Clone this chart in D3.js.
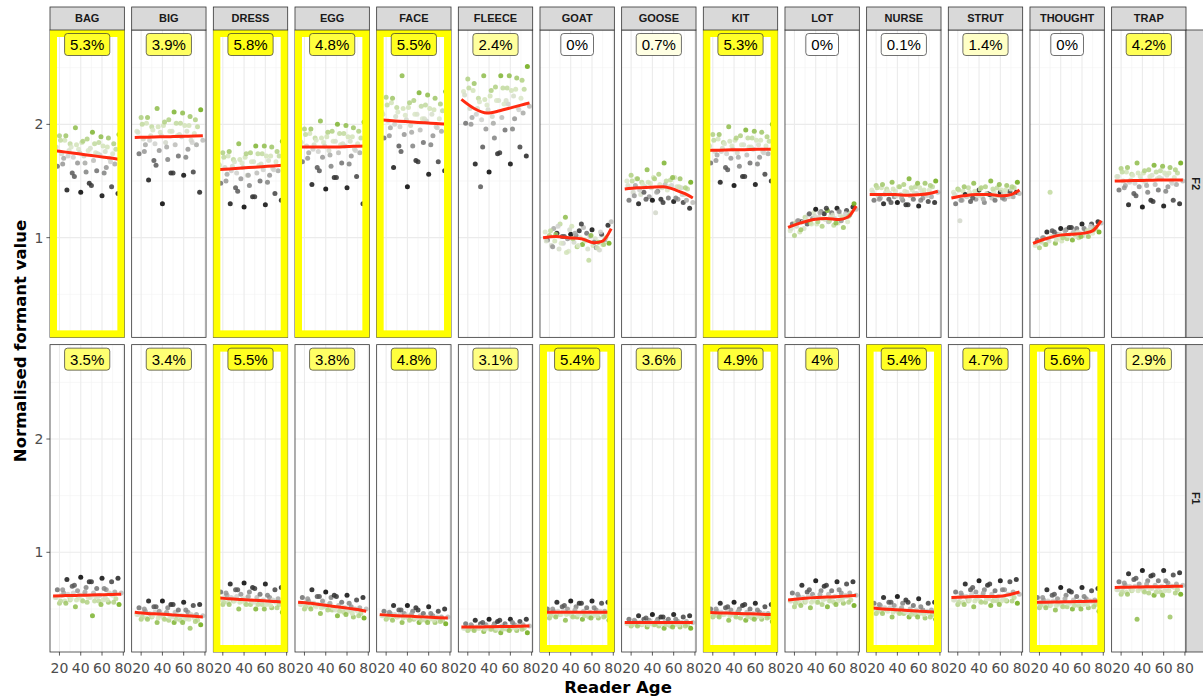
<!DOCTYPE html>
<html>
<head>
<meta charset="utf-8">
<script src="https://cdn.jsdelivr.net/npm/d3@7"></script>
<style>
  html, body { margin: 0; padding: 0; background: #fff; }
  #container { width: 1203px; height: 700px; }
</style>
</head>
<body>
<div id="container"></div>
<script>
/**
 * 数据
 */
const vowels = ["BAG", "BIG", "DRESS", "EGG", "FACE", "FLEECE", "GOAT", "GOOSE", "KIT", "LOT", "NURSE", "STRUT", "THOUGHT", "TRAP"];
const formants = ["F2", "F1"];

// 读者年龄与着色分值（-1 黑色 … +1 绿色）
const speakerAge = [16, 18, 20, 22, 24, 25, 27, 29, 30, 32, 33, 35, 37, 38, 40, 41, 43, 45, 46, 48, 49, 51, 52, 54, 55, 57, 58, 60, 61, 63, 64, 66, 67, 69, 70, 72, 73, 75, 76, 78,
  17, 21, 23, 26, 28, 31, 34, 36, 39, 42, 44, 47, 50, 53, 56, 59, 62, 65, 68, 71];
const speakerScore = [0.3, -0.5, 0.6, 0.1, -0.2, 0.4, -0.9, 0.2, 0.5, -0.6, 0.0, 0.8, -0.3, 0.3, -1.0, 0.4, 0.1, -0.4, 0.6, -0.8, 0.2, 0.9, -0.1, 0.3, -0.5, 0.5, 0.0, -0.95, 0.4, 0.2, -0.3, 0.7, 0.1, -0.7, 0.3, -0.2, 0.5, -0.85, 1.0, -0.1,
  0.2, 0.5, -0.3, 0.7, 0.0, 0.3, -0.6, 0.4, 0.1, 0.6, -0.2, 0.3, -0.75, 0.5, 0.2, 0.8, -0.4, 0.4, 0.0, 0.6];

// F2 各元音的点
const bagF2 = [1.80, 1.63, 1.90, 1.74, 1.70, 1.86, 1.42, 1.77, 1.83, 1.57, 1.71, 1.97, 1.66, 1.78, 1.40, 1.84, 1.72, 1.58, 1.87, 1.48, 1.79, 1.93, 1.68, 1.75, 1.59, 1.84, 1.73, 1.37, 1.81, 1.76, 1.62, 1.88, 1.70, 1.45, 1.74, 1.65, 1.78, 1.39, 1.91, 1.67,
  1.80, 1.86, 1.65, 1.90, 1.72, 1.80, 1.54, 1.82, 1.75, 1.85, 1.66, 1.77, 1.46, 1.83, 1.74, 1.89, 1.57, 1.80, 1.67, 1.83];
const bigF2 = [1.94, 1.74, 2.06, 1.87, 1.82, 2.01, 1.51, 1.90, 1.98, 1.68, 1.83, 2.14, 1.77, 1.93, 1.30, 1.99, 1.84, 1.69, 2.04, 1.57, 1.94, 2.11, 1.82, 1.90, 1.72, 2.01, 1.89, 1.55, 1.99, 1.94, 1.78, 2.07, 1.86, 1.58, 1.92, 1.82, 1.98, 1.40, 2.13, 1.86,
  1.93, 2.00, 1.76, 2.06, 1.86, 1.95, 1.64, 1.98, 1.90, 2.02, 1.80, 1.94, 1.57, 2.01, 1.91, 2.10, 1.71, 1.99, 1.84, 2.04];
const dressF2 = [1.65, 1.48, 1.75, 1.62, 1.56, 1.72, 1.30, 1.63, 1.69, 1.44, 1.57, 1.83, 1.52, 1.66, 1.27, 1.71, 1.55, 1.46, 1.75, 1.36, 1.67, 1.81, 1.57, 1.64, 1.50, 1.74, 1.60, 1.29, 1.72, 1.68, 1.55, 1.80, 1.61, 1.39, 1.67, 1.59, 1.72, 1.33, 1.85, 1.62,
  1.64, 1.71, 1.50, 1.76, 1.59, 1.67, 1.41, 1.69, 1.62, 1.74, 1.55, 1.67, 1.36, 1.74, 1.65, 1.81, 1.49, 1.72, 1.60, 1.76];
const eggF2 = [1.85, 1.67, 1.96, 1.81, 1.75, 1.92, 1.47, 1.82, 1.88, 1.62, 1.76, 2.03, 1.71, 1.84, 1.43, 1.89, 1.77, 1.63, 1.94, 1.53, 1.85, 2.00, 1.75, 1.82, 1.66, 1.92, 1.81, 1.44, 1.89, 1.85, 1.72, 1.97, 1.78, 1.54, 1.83, 1.75, 1.88, 1.30, 2.02, 1.78,
  1.84, 1.91, 1.70, 1.96, 1.78, 1.86, 1.59, 1.88, 1.81, 1.93, 1.73, 1.85, 1.53, 1.92, 1.83, 1.99, 1.65, 1.89, 1.77, 1.94];
const faceF2 = [2.11, 1.88, 2.24, 2.03, 1.97, 2.19, 1.62, 2.07, 2.15, 1.81, 1.98, 2.43, 1.91, 2.08, 1.45, 2.15, 1.99, 1.81, 2.21, 1.68, 2.09, 2.28, 1.95, 2.05, 1.84, 2.17, 2.03, 1.56, 2.14, 2.09, 1.90, 2.23, 1.98, 1.67, 2.05, 1.94, 2.12, 1.59, 2.29, 1.98,
  2.09, 2.17, 1.90, 2.23, 2.00, 2.11, 1.76, 2.14, 2.04, 2.19, 1.93, 2.09, 1.67, 2.16, 2.05, 2.26, 1.82, 2.13, 1.97, 2.18];
const fleeceF2 = [2.29, 2.01, 2.40, 2.14, 2.06, 2.30, 1.65, 2.14, 2.23, 1.45, 2.04, 2.43, 1.96, 2.17, 1.58, 2.25, 2.07, 1.88, 2.33, 1.74, 2.21, 2.43, 2.06, 2.18, 1.95, 2.32, 2.18, 1.65, 2.30, 2.25, 2.05, 2.41, 2.15, 1.80, 2.23, 2.10, 2.31, 1.72, 2.51, 2.16,
  2.26, 2.32, 2.00, 2.36, 2.09, 2.20, 1.80, 2.22, 2.13, 2.30, 2.01, 2.21, 1.75, 2.32, 2.21, 2.43, 1.96, 2.31, 2.13, 2.39];
const goatF2 = [1.05, 0.98, 1.02, 0.93, 1.08, 0.97, 1.04, 0.90, 1.12, 1.01, 0.95, 1.18, 0.99, 0.88, 1.03, 1.10, 0.96, 1.02, 0.92, 1.06, 1.00, 0.94, 1.09, 0.97, 1.04, 0.80, 1.01, 1.07, 0.93, 0.99, 0.91, 0.96, 0.89, 1.03, 0.94, 0.98, 1.00, 1.11, 0.95, 1.14,
  0.97, 1.06, 0.92, 1.03, 1.10, 0.95, 1.01, 0.87, 1.07, 0.99, 1.04, 0.93, 1.12, 0.98, 0.90, 1.02, 0.96, 0.91, 1.05, 0.94];
const gooseF2 = [1.50, 1.33, 1.55, 1.40, 1.46, 1.52, 1.30, 1.38, 1.49, 1.40, 1.45, 1.60, 1.36, 1.48, 1.33, 1.53, 1.22, 1.41, 1.56, 1.34, 1.44, 1.66, 1.47, 1.42, 1.35, 1.51, 1.46, 1.32, 1.53, 1.45, 1.34, 1.52, 1.44, 1.31, 1.38, 1.33, 1.43, 1.26, 1.49, 1.31,
  1.46, 1.50, 1.37, 1.52, 1.42, 1.47, 1.34, 1.49, 1.44, 1.52, 1.40, 1.47, 1.31, 1.50, 1.45, 1.53, 1.35, 1.45, 1.38, 1.44];
const kitF2 = [1.82, 1.66, 1.91, 1.76, 1.73, 1.87, 1.49, 1.79, 1.84, 1.62, 1.74, 1.98, 1.70, 1.81, 1.46, 1.86, 1.75, 1.63, 1.90, 1.54, 1.82, 1.95, 1.73, 1.80, 1.66, 1.88, 1.78, 1.47, 1.86, 1.82, 1.71, 1.93, 1.76, 1.56, 1.81, 1.74, 1.85, 1.50, 2.00, 1.76,
  1.81, 1.86, 1.68, 1.91, 1.76, 1.83, 1.60, 1.85, 1.78, 1.88, 1.71, 1.82, 1.54, 1.88, 1.80, 1.94, 1.65, 1.86, 1.75, 1.89];
const lotF2 = [1.06, 1.12, 1.02, 1.10, 1.15, 1.05, 1.14, 1.08, 1.18, 1.12, 1.20, 1.13, 1.17, 1.22, 1.25, 1.12, 1.18, 1.23, 1.10, 1.21, 1.16, 1.24, 1.14, 1.19, 1.22, 1.11, 1.17, 1.26, 1.13, 1.20, 1.15, 1.09, 1.18, 1.24, 1.14, 1.20, 1.22, 1.27, 1.30, 1.25,
  1.08, 1.13, 1.15, 1.07, 1.14, 1.16, 1.21, 1.12, 1.19, 1.14, 1.22, 1.17, 1.26, 1.15, 1.20, 1.13, 1.23, 1.18, 1.21, 1.19];
const nurseF2 = [1.42, 1.33, 1.46, 1.37, 1.35, 1.44, 1.30, 1.40, 1.43, 1.34, 1.39, 1.49, 1.36, 1.41, 1.31, 1.45, 1.38, 1.33, 1.47, 1.29, 1.40, 1.52, 1.37, 1.42, 1.34, 1.45, 1.39, 1.28, 1.44, 1.41, 1.35, 1.48, 1.38, 1.32, 1.42, 1.36, 1.45, 1.31, 1.50, 1.40,
  1.40, 1.44, 1.34, 1.47, 1.38, 1.41, 1.31, 1.43, 1.37, 1.45, 1.35, 1.41, 1.29, 1.44, 1.39, 1.48, 1.33, 1.42, 1.37, 1.46];
const strutF2 = [1.40, 1.30, 1.43, 1.15, 1.33, 1.41, 1.38, 1.36, 1.44, 1.32, 1.37, 1.48, 1.34, 1.40, 1.42, 1.43, 1.36, 1.31, 1.45, 1.39, 1.38, 1.50, 1.35, 1.41, 1.33, 1.44, 1.37, 1.40, 1.42, 1.39, 1.34, 1.46, 1.38, 1.41, 1.43, 1.36, 1.44, 1.40, 1.49, 1.39,
  1.38, 1.42, 1.33, 1.45, 1.36, 1.40, 1.35, 1.41, 1.37, 1.44, 1.34, 1.39, 1.38, 1.43, 1.37, 1.47, 1.35, 1.42, 1.36, 1.45];
const thoughtF2 = [0.93, 0.98, 0.91, 0.96, 1.00, 0.94, 1.05, 0.97, 1.40, 1.06, 1.01, 0.95, 1.03, 1.00, 1.08, 0.97, 1.02, 1.07, 0.99, 1.09, 1.03, 0.98, 1.05, 1.01, 1.08, 1.00, 1.04, 1.12, 1.02, 1.06, 1.05, 1.01, 1.07, 1.12, 1.04, 1.09, 1.08, 1.14, 1.05, 1.13,
  0.95, 0.97, 1.00, 0.94, 0.99, 1.01, 1.05, 0.98, 1.03, 1.00, 1.06, 1.02, 1.09, 1.03, 1.05, 1.01, 1.08, 1.06, 1.10, 1.07];
const trapF2 = [1.54, 1.42, 1.61, 1.50, 1.46, 1.58, 1.29, 1.51, 1.56, 1.39, 1.48, 1.66, 1.45, 1.54, 1.27, 1.57, 1.49, 1.40, 1.60, 1.33, 1.55, 1.64, 1.47, 1.52, 1.42, 1.59, 1.52, 1.28, 1.57, 1.55, 1.45, 1.62, 1.50, 1.33, 1.53, 1.47, 1.57, 1.30, 1.66, 1.50,
  1.54, 1.58, 1.44, 1.62, 1.49, 1.55, 1.37, 1.57, 1.51, 1.59, 1.46, 1.54, 1.32, 1.58, 1.53, 1.63, 1.41, 1.57, 1.48, 1.60];

// F1 各元音的点
const bagF1 = [0.60, 0.67, 0.55, 0.62, 0.64, 0.57, 0.76, 0.61, 0.58, 0.70, 0.64, 0.52, 0.66, 0.60, 0.78, 0.58, 0.63, 0.69, 0.56, 0.74, 0.60, 0.44, 0.64, 0.61, 0.68, 0.57, 0.62, 0.77, 0.58, 0.60, 0.67, 0.56, 0.64, 0.74, 0.62, 0.65, 0.59, 0.77, 0.54, 0.64,
  0.60, 0.57, 0.67, 0.55, 0.63, 0.59, 0.71, 0.58, 0.62, 0.57, 0.65, 0.60, 0.74, 0.57, 0.61, 0.54, 0.68, 0.58, 0.63, 0.56];
const bigF1 = [0.45, 0.51, 0.41, 0.46, 0.48, 0.42, 0.57, 0.45, 0.43, 0.52, 0.47, 0.38, 0.48, 0.44, 0.57, 0.42, 0.46, 0.51, 0.40, 0.54, 0.43, 0.38, 0.47, 0.44, 0.49, 0.40, 0.44, 0.56, 0.41, 0.42, 0.47, 0.33, 0.45, 0.53, 0.42, 0.45, 0.40, 0.54, 0.36, 0.44,
  0.45, 0.43, 0.50, 0.41, 0.46, 0.44, 0.52, 0.42, 0.45, 0.41, 0.47, 0.43, 0.54, 0.41, 0.44, 0.38, 0.49, 0.41, 0.44, 0.39];
const dressF1 = [0.58, 0.65, 0.54, 0.60, 0.62, 0.56, 0.72, 0.59, 0.57, 0.67, 0.61, 0.50, 0.63, 0.57, 0.73, 0.55, 0.60, 0.65, 0.54, 0.69, 0.56, 0.50, 0.60, 0.57, 0.63, 0.54, 0.58, 0.72, 0.54, 0.56, 0.60, 0.51, 0.58, 0.67, 0.56, 0.59, 0.54, 0.69, 0.47, 0.58,
  0.58, 0.56, 0.64, 0.54, 0.60, 0.57, 0.67, 0.56, 0.59, 0.54, 0.61, 0.57, 0.68, 0.54, 0.57, 0.50, 0.62, 0.53, 0.57, 0.51];
const eggF1 = [0.54, 0.60, 0.50, 0.56, 0.57, 0.52, 0.67, 0.55, 0.53, 0.61, 0.54, 0.46, 0.57, 0.52, 0.65, 0.51, 0.54, 0.60, 0.49, 0.62, 0.49, 0.44, 0.53, 0.50, 0.56, 0.47, 0.51, 0.62, 0.48, 0.49, 0.52, 0.43, 0.50, 0.58, 0.48, 0.51, 0.46, 0.60, 0.42, 0.50,
  0.54, 0.52, 0.59, 0.50, 0.55, 0.52, 0.61, 0.51, 0.53, 0.49, 0.55, 0.51, 0.61, 0.48, 0.51, 0.45, 0.55, 0.46, 0.50, 0.44];
const faceF1 = [0.44, 0.48, 0.41, 0.45, 0.46, 0.42, 0.53, 0.44, 0.43, 0.49, 0.45, 0.38, 0.46, 0.43, 0.53, 0.42, 0.45, 0.48, 0.41, 0.51, 0.42, 0.38, 0.44, 0.42, 0.46, 0.40, 0.43, 0.52, 0.41, 0.42, 0.44, 0.38, 0.42, 0.48, 0.41, 0.43, 0.40, 0.50, 0.37, 0.43,
  0.44, 0.42, 0.47, 0.40, 0.45, 0.43, 0.49, 0.42, 0.44, 0.40, 0.45, 0.42, 0.49, 0.40, 0.42, 0.38, 0.46, 0.40, 0.43, 0.39];
const fleeceF1 = [0.33, 0.37, 0.31, 0.34, 0.35, 0.32, 0.40, 0.34, 0.33, 0.37, 0.35, 0.30, 0.36, 0.33, 0.41, 0.32, 0.34, 0.37, 0.31, 0.39, 0.33, 0.29, 0.35, 0.34, 0.37, 0.32, 0.34, 0.41, 0.33, 0.34, 0.36, 0.31, 0.35, 0.39, 0.34, 0.36, 0.33, 0.41, 0.29, 0.35,
  0.33, 0.32, 0.36, 0.31, 0.34, 0.33, 0.38, 0.32, 0.34, 0.32, 0.35, 0.33, 0.40, 0.32, 0.34, 0.31, 0.38, 0.33, 0.35, 0.32];
const goatF1 = [0.46, 0.50, 0.42, 0.47, 0.48, 0.44, 0.56, 0.46, 0.45, 0.52, 0.48, 0.40, 0.50, 0.46, 0.57, 0.44, 0.47, 0.52, 0.43, 0.55, 0.46, 0.41, 0.48, 0.46, 0.51, 0.43, 0.47, 0.57, 0.44, 0.46, 0.49, 0.42, 0.47, 0.55, 0.46, 0.48, 0.44, 0.56, 0.40, 0.47,
  0.46, 0.44, 0.50, 0.43, 0.48, 0.45, 0.53, 0.45, 0.47, 0.43, 0.49, 0.45, 0.55, 0.44, 0.46, 0.42, 0.51, 0.44, 0.48, 0.43];
const gooseF1 = [0.37, 0.41, 0.35, 0.38, 0.39, 0.36, 0.44, 0.38, 0.36, 0.41, 0.38, 0.34, 0.40, 0.37, 0.45, 0.36, 0.38, 0.41, 0.35, 0.43, 0.37, 0.33, 0.39, 0.38, 0.41, 0.35, 0.38, 0.45, 0.36, 0.37, 0.39, 0.34, 0.38, 0.43, 0.37, 0.39, 0.36, 0.44, 0.33, 0.38,
  0.37, 0.36, 0.40, 0.35, 0.38, 0.37, 0.42, 0.36, 0.38, 0.36, 0.39, 0.37, 0.43, 0.36, 0.37, 0.34, 0.41, 0.36, 0.38, 0.35];
const kitF1 = [0.46, 0.50, 0.43, 0.47, 0.48, 0.44, 0.55, 0.46, 0.45, 0.51, 0.47, 0.40, 0.49, 0.45, 0.56, 0.44, 0.47, 0.50, 0.42, 0.53, 0.45, 0.40, 0.47, 0.45, 0.50, 0.42, 0.46, 0.55, 0.43, 0.45, 0.47, 0.41, 0.45, 0.52, 0.44, 0.46, 0.43, 0.54, 0.39, 0.46,
  0.46, 0.44, 0.50, 0.43, 0.47, 0.45, 0.52, 0.44, 0.46, 0.43, 0.48, 0.45, 0.54, 0.43, 0.45, 0.41, 0.49, 0.43, 0.46, 0.42];
const lotF1 = [0.57, 0.64, 0.52, 0.58, 0.61, 0.55, 0.71, 0.58, 0.56, 0.65, 0.61, 0.51, 0.63, 0.58, 0.75, 0.56, 0.60, 0.66, 0.54, 0.70, 0.59, 0.52, 0.63, 0.60, 0.66, 0.56, 0.61, 0.74, 0.57, 0.59, 0.64, 0.55, 0.61, 0.72, 0.61, 0.64, 0.58, 0.74, 0.53, 0.62,
  0.57, 0.55, 0.63, 0.53, 0.60, 0.57, 0.67, 0.56, 0.60, 0.56, 0.63, 0.58, 0.71, 0.57, 0.60, 0.54, 0.67, 0.58, 0.62, 0.56];
const nurseF1 = [0.50, 0.55, 0.46, 0.51, 0.53, 0.48, 0.60, 0.50, 0.49, 0.56, 0.51, 0.43, 0.53, 0.49, 0.61, 0.47, 0.50, 0.55, 0.46, 0.58, 0.47, 0.43, 0.50, 0.48, 0.53, 0.45, 0.49, 0.59, 0.46, 0.47, 0.49, 0.42, 0.47, 0.55, 0.46, 0.49, 0.45, 0.56, 0.41, 0.48,
  0.50, 0.47, 0.54, 0.46, 0.51, 0.48, 0.56, 0.47, 0.49, 0.46, 0.51, 0.48, 0.56, 0.45, 0.48, 0.43, 0.52, 0.45, 0.48, 0.43];
const strutF1 = [0.58, 0.65, 0.54, 0.60, 0.62, 0.56, 0.72, 0.59, 0.57, 0.67, 0.63, 0.52, 0.65, 0.59, 0.75, 0.57, 0.62, 0.67, 0.56, 0.71, 0.59, 0.53, 0.63, 0.60, 0.66, 0.57, 0.61, 0.75, 0.57, 0.59, 0.67, 0.57, 0.63, 0.74, 0.62, 0.65, 0.60, 0.76, 0.55, 0.63,
  0.58, 0.56, 0.64, 0.54, 0.61, 0.58, 0.69, 0.57, 0.61, 0.56, 0.64, 0.59, 0.72, 0.57, 0.60, 0.54, 0.67, 0.58, 0.63, 0.57];
const thoughtF1 = [0.55, 0.60, 0.51, 0.56, 0.58, 0.53, 0.67, 0.55, 0.53, 0.62, 0.57, 0.49, 0.59, 0.55, 0.69, 0.53, 0.56, 0.62, 0.52, 0.66, 0.55, 0.50, 0.58, 0.56, 0.61, 0.53, 0.57, 0.69, 0.54, 0.55, 0.59, 0.51, 0.57, 0.66, 0.56, 0.58, 0.54, 0.68, 0.48, 0.57,
  0.55, 0.53, 0.60, 0.51, 0.57, 0.54, 0.63, 0.53, 0.56, 0.52, 0.59, 0.55, 0.65, 0.53, 0.56, 0.50, 0.61, 0.54, 0.57, 0.52];
const trapF1 = [0.67, 0.74, 0.63, 0.69, 0.71, 0.65, 0.81, 0.68, 0.66, 0.76, 0.70, 0.41, 0.72, 0.68, 0.84, 0.66, 0.69, 0.75, 0.64, 0.79, 0.68, 0.62, 0.71, 0.69, 0.75, 0.65, 0.70, 0.84, 0.66, 0.68, 0.73, 0.43, 0.70, 0.80, 0.69, 0.72, 0.67, 0.82, 0.63, 0.71,
  0.67, 0.65, 0.73, 0.63, 0.70, 0.67, 0.77, 0.66, 0.69, 0.65, 0.72, 0.68, 0.80, 0.65, 0.69, 0.62, 0.75, 0.66, 0.70, 0.64];

// 平滑曲线（红线）在这些年龄处的取值
const smoothAges = [14, 26, 38, 50, 62, 70, 78];
const smoothF2 = [
  [1.77, 1.755, 1.74, 1.725, 1.71, 1.70, 1.69],
  [1.885, 1.887, 1.89, 1.892, 1.895, 1.897, 1.90],
  [1.60, 1.607, 1.615, 1.622, 1.63, 1.635, 1.64],
  [1.80, 1.80, 1.80, 1.80, 1.805, 1.807, 1.81],
  [2.04, 2.032, 2.025, 2.017, 2.01, 2.005, 2.00],
  [2.22, 2.14, 2.10, 2.12, 2.15, 2.17, 2.19],
  [1.00, 1.01, 1.00, 0.99, 0.955, 0.97, 1.08],
  [1.43, 1.44, 1.445, 1.45, 1.42, 1.39, 1.35],
  [1.77, 1.772, 1.775, 1.777, 1.78, 1.78, 1.78],
  [1.09, 1.13, 1.16, 1.17, 1.16, 1.18, 1.28],
  [1.38, 1.38, 1.38, 1.375, 1.38, 1.39, 1.41],
  [1.35, 1.37, 1.38, 1.38, 1.37, 1.38, 1.42],
  [0.95, 0.99, 1.02, 1.03, 1.04, 1.06, 1.15],
  [1.50, 1.502, 1.505, 1.507, 1.51, 1.51, 1.51]
];
const smoothF1 = [
  [0.615, 0.618, 0.62, 0.623, 0.626, 0.628, 0.63],
  [0.47, 0.46, 0.455, 0.447, 0.44, 0.435, 0.43],
  [0.60, 0.59, 0.583, 0.577, 0.57, 0.565, 0.56],
  [0.56, 0.55, 0.535, 0.52, 0.505, 0.495, 0.48],
  [0.45, 0.442, 0.437, 0.432, 0.427, 0.423, 0.42],
  [0.34, 0.34, 0.342, 0.344, 0.346, 0.348, 0.35],
  [0.47, 0.47, 0.47, 0.47, 0.47, 0.47, 0.47],
  [0.38, 0.38, 0.38, 0.38, 0.38, 0.38, 0.38],
  [0.47, 0.465, 0.462, 0.458, 0.455, 0.452, 0.45],
  [0.58, 0.59, 0.60, 0.605, 0.61, 0.615, 0.62],
  [0.51, 0.50, 0.493, 0.487, 0.48, 0.475, 0.47],
  [0.60, 0.605, 0.61, 0.61, 0.615, 0.63, 0.65],
  [0.56, 0.56, 0.562, 0.564, 0.566, 0.568, 0.57],
  [0.69, 0.692, 0.694, 0.696, 0.698, 0.70, 0.70]
];

// 每个面板顶部的百分比标注
const pctF2 = [5.3, 3.9, 5.8, 4.8, 5.5, 2.4, 0, 0.7, 5.3, 0, 0.1, 1.4, 0, 4.2];
const pctF1 = [3.5, 3.4, 5.5, 3.8, 4.8, 3.1, 5.4, 3.6, 4.9, 4, 5.4, 4.7, 5.6, 2.9];

// 黄色框高亮的面板
const highlightF2 = ["BAG", "DRESS", "EGG", "FACE", "KIT"];
const highlightF1 = ["DRESS", "GOAT", "KIT", "NURSE", "THOUGHT"];

// 坐标轴刻度
const xTicks = [20, 40, 60, 80];
const xMinor = [30, 50, 70];
const yTicks = [1, 2];
const yMinor = [0.5, 1.5, 2.5];

/**
 * 布局
 */
const width = 1203;
const height = 700;
const panelLeft = 50;
const panelRight = 1186;
const panelGap = 7.3;
const panelWidth = (panelRight - panelLeft - 13 * panelGap) / 14;
const rowTops = [30, 344.65];
const rowHeight = 307.35;
const stripTop = 7;
const stripSize = 23;
const axisFont = "'DejaVu Sans', Verdana, sans-serif";

const rows = [
  { name: formants[0], points: [bagF2, bigF2, dressF2, eggF2, faceF2, fleeceF2, goatF2, gooseF2, kitF2, lotF2, nurseF2, strutF2, thoughtF2, trapF2], smooth: smoothF2, pct: pctF2, hi: highlightF2 },
  { name: formants[1], points: [bagF1, bigF1, dressF1, eggF1, faceF1, fleeceF1, goatF1, gooseF1, kitF1, lotF1, nurseF1, strutF1, thoughtF1, trapF1], smooth: smoothF1, pct: pctF1, hi: highlightF1 }
];

// 比例尺（每个面板内部使用的局部坐标）
const x = d3.scaleLinear().domain([11.1, 81]).range([0, panelWidth]);
const y = d3.scaleLinear().domain([0.12, 2.833]).range([rowHeight, 0]);
const color = d3.scaleLinear()
  .domain([-1, -0.5, 0, 0.35, 1])
  .range(["#000000", "#6e6e6e", "#cfd0cc", "#dbe8c6", "#6ca913"]);
const labelFill = (p) => d3.interpolateRgb("#ffffff", "#ffff00")(Math.min(1, p / 6.3));

const line = d3.line()
  .curve(d3.curveMonotoneX)
  .x((d) => x(d[0]))
  .y((d) => y(d[1]));

const svg = d3.select("#container")
  .append("svg")
  .attr("width", width)
  .attr("height", height)
  .attr("viewBox", [0, 0, width, height])
  .style("font-family", "'Liberation Sans', Arial, sans-serif");

svg.append("rect").attr("width", width).attr("height", height).attr("fill", "#fff");

const colLeft = (c) => panelLeft + c * (panelWidth + panelGap);

/**
 * 面板
 */
rows.forEach((row, r) => {
  const top = rowTops[r];
  vowels.forEach((v, c) => {
    const g = svg.append("g").attr("transform", `translate(${colLeft(c)},${top})`);

    g.append("rect").attr("width", panelWidth).attr("height", rowHeight).attr("fill", "#fff");

    // 网格线：先画次要，再画主要
    const grid = (vals, stroke, sw, vertical) => g.append("g")
      .attr("stroke", stroke)
      .attr("stroke-width", sw)
      .selectAll("line")
      .data(vals)
      .join("line")
      .attr("x1", (d) => vertical ? x(d) : 0)
      .attr("x2", (d) => vertical ? x(d) : panelWidth)
      .attr("y1", (d) => vertical ? 0 : y(d))
      .attr("y2", (d) => vertical ? rowHeight : y(d));
    grid(xMinor, "#f2f2f2", 0.6, true);
    grid(yMinor, "#f2f2f2", 0.6, false);
    grid(xTicks, "#ebebeb", 1.1, true);
    grid(yTicks, "#ebebeb", 1.1, false);

    // 散点
    const vals = row.points[c];
    g.append("g")
      .selectAll("circle")
      .data(d3.range(speakerAge.length))
      .join("circle")
      .attr("cx", (i) => x(speakerAge[i]))
      .attr("cy", (i) => y(vals[i]))
      .attr("r", 2.5)
      .attr("fill", (i) => color(speakerScore[i]))
      .attr("fill-opacity", 0.85);

    // 平滑红线
    g.append("path")
      .attr("fill", "none")
      .attr("stroke", "#ff2a10")
      .attr("stroke-width", 3)
      .attr("d", line(smoothAges.map((a, k) => [a, row.smooth[c][k]])));

    // 面板边框
    g.append("rect")
      .attr("width", panelWidth)
      .attr("height", rowHeight)
      .attr("fill", "none")
      .attr("stroke", "#333")
      .attr("stroke-width", 0.8);

    // 黄色高亮框
    if (row.hi.includes(v)) {
      g.append("rect")
        .attr("x", 3.5)
        .attr("y", 3.5)
        .attr("width", panelWidth - 7)
        .attr("height", rowHeight - 7)
        .attr("fill", "none")
        .attr("stroke", "#ffff00")
        .attr("stroke-width", 7);
    }

    // 百分比标注
    const lab = g.append("g").attr("transform", `translate(${panelWidth / 2},${14.5})`);
    const box = lab.append("rect");
    const t = lab.append("text")
      .attr("text-anchor", "middle")
      .attr("dy", "0.36em")
      .attr("font-size", 15)
      .attr("fill", "#000")
      .text(`${row.pct[c]}%`);
    const tw = t.node().getComputedTextLength();
    box.attr("x", -tw / 2 - 5.5)
      .attr("y", -11)
      .attr("width", tw + 11)
      .attr("height", 22)
      .attr("rx", 3)
      .attr("fill", labelFill(row.pct[c]))
      .attr("stroke", "#333")
      .attr("stroke-width", 0.7);
  });

  // 右侧分面标签
  const sg = svg.append("g").attr("transform", `translate(${panelRight},${top})`);
  sg.append("rect")
    .attr("width", 22)
    .attr("height", rowHeight)
    .attr("fill", "#d9d9d9")
    .attr("stroke", "#333")
    .attr("stroke-width", 0.8);
  sg.append("text")
    .attr("transform", `translate(10,${rowHeight / 2}) rotate(90)`)
    .attr("text-anchor", "middle")
    .attr("dy", "0.35em")
    .attr("font-size", 11)
    .attr("font-weight", "bold")
    .attr("fill", "#1a1a1a")
    .text(row.name);

  // 纵坐标轴
  const ya = svg.append("g").attr("transform", `translate(${panelLeft},${top})`);
  ya.selectAll("line")
    .data(yTicks)
    .join("line")
    .attr("x1", -3.6)
    .attr("x2", 0)
    .attr("y1", (d) => y(d))
    .attr("y2", (d) => y(d))
    .attr("stroke", "#333")
    .attr("stroke-width", 0.8);
  ya.selectAll("text")
    .data(yTicks)
    .join("text")
    .attr("x", -6.5)
    .attr("y", (d) => y(d))
    .attr("dy", "0.36em")
    .attr("text-anchor", "end")
    .attr("font-family", axisFont)
    .attr("font-size", 14)
    .attr("fill", "#4d4d4d")
    .text((d) => d);
});

// 顶部分面标签
vowels.forEach((v, c) => {
  const sg = svg.append("g").attr("transform", `translate(${colLeft(c)},${stripTop})`);
  sg.append("rect")
    .attr("width", panelWidth)
    .attr("height", stripSize)
    .attr("fill", "#d9d9d9")
    .attr("stroke", "#333")
    .attr("stroke-width", 0.8);
  sg.append("text")
    .attr("x", panelWidth / 2)
    .attr("y", stripSize / 2)
    .attr("dy", "0.35em")
    .attr("text-anchor", "middle")
    .attr("font-size", 11)
    .attr("font-weight", "bold")
    .attr("fill", "#1a1a1a")
    .text(v);

  // 横坐标轴（只在底行）
  const xa = svg.append("g").attr("transform", `translate(${colLeft(c)},${rowTops[1] + rowHeight})`);
  xa.selectAll("line")
    .data(xTicks)
    .join("line")
    .attr("x1", (d) => x(d))
    .attr("x2", (d) => x(d))
    .attr("y1", 0)
    .attr("y2", 3.6)
    .attr("stroke", "#333")
    .attr("stroke-width", 0.8);
  xa.selectAll("text")
    .data(xTicks)
    .join("text")
    .attr("x", (d) => x(d))
    .attr("y", 16)
    .attr("dy", "0.36em")
    .attr("text-anchor", "middle")
    .attr("font-family", axisFont)
    .attr("font-size", 14)
    .attr("fill", "#4d4d4d")
    .text((d) => d);
});

// 坐标轴标题
svg.append("text")
  .attr("transform", `translate(25.5,${(rowTops[0] + rowTops[1] + rowHeight) / 2}) rotate(-90)`)
  .attr("text-anchor", "middle")
  .attr("font-family", axisFont)
  .attr("font-size", 16.5)
  .attr("font-weight", "bold")
  .attr("fill", "#000")
  .text("Normalised formant value");

svg.append("text")
  .attr("x", (panelLeft + panelRight) / 2)
  .attr("y", 693)
  .attr("text-anchor", "middle")
  .attr("font-family", axisFont)
  .attr("font-size", 16.5)
  .attr("font-weight", "bold")
  .attr("fill", "#000")
  .text("Reader Age");
</script>
</body>
</html>
